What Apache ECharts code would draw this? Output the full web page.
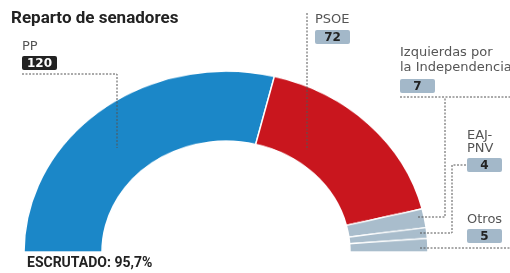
<!DOCTYPE html>
<html>
  <head>
    <meta charset="utf-8" />
    <script src="https://cdn.jsdelivr.net/npm/echarts@6.0.0/dist/echarts.min.js"></script>
    <style>
      html, body { margin: 0; padding: 0; background: #fff; }
      .layer { position: absolute; left: 0; top: 0; width: 510px; height: 273px; }
      /* the printed half ring is slightly squashed vertically */
      #ring { transform: scaleY(0.895); transform-origin: 226px 252px; }
    </style>
  </head>
  <body>
    <div id="ring" class="layer"></div>
    <div id="main" class="layer"></div>

    <script type="text/javascript">
      // seats per party
      var parties = ["PP", "PSOE", "Izquierdas por la Independencia", "EAJ-PNV", "Otros"];
      var seats = [120, 72, 7, 4, 5];
      var colors = ["#1b87c8", "#c9161e", "#a9bdcc", "#a9bdcc", "#a9bdcc"];
      var scrutinized = "95,7%";

      var total = seats.reduce(function (a, b) { return a + b; }, 0);

      var pieData = parties.map(function (name, i) {
        return { name: name, value: seats[i], itemStyle: { color: colors[i] } };
      });
      // hidden lower half so the donut becomes a half ring
      pieData.push({
        name: "_hidden",
        value: total,
        itemStyle: { color: "rgba(0,0,0,0)", borderWidth: 0 },
        emphasis: { disabled: true }
      });

      var labelFont = '13px "DejaVu Sans"';
      var numFont = 'bold 12px "DejaVu Sans"';
      var dotted = { stroke: "#555", lineWidth: 1, lineDash: [2, 1.5], fill: null };

      function label(x, y, txt) {
        return { type: "text", x: x, y: y, style: { text: txt, font: labelFont, fill: "#555", textVerticalAlign: "middle" } };
      }
      function box(x, y, num, dark) {
        return [
          { type: "rect", shape: { x: x, y: y, width: 35, height: 14, r: 2 }, style: { fill: dark ? "#222" : "#a3b8c9" } },
          { type: "text", x: x + 17.5, y: y + 7.5, style: { text: num, font: numFont, fill: dark ? "#fff" : "#222", textAlign: "center", textVerticalAlign: "middle" } }
        ];
      }
      function line(points) {
        return { type: "polyline", shape: { points: points }, style: dotted, z: 10 };
      }

      var graphics = [
        { type: "text", x: 11, y: 19, style: { text: "Reparto de senadores", font: 'bold 17px "Roboto"', fill: "#222", textVerticalAlign: "middle" } },
        { type: "text", x: 27, y: 263, style: { text: "ESCRUTADO: " + scrutinized, font: 'bold 14px "Roboto"', fill: "#222", textVerticalAlign: "middle" } },

        label(22, 47, parties[0]),
        label(315, 20, parties[1]),
        label(400, 53, "Izquierdas por"),
        label(400, 68, "la Independencia"),
        label(467, 136, "EAJ-"),
        label(467, 149, "PNV"),
        label(467, 220, parties[4]),

        line([[22, 74], [117, 74], [117, 148]]),
        line([[307, 13], [307, 150]]),
        line([[418, 217], [445, 217], [445, 97]]),
        line([[400, 97], [510, 97]]),
        line([[420, 233], [452, 233], [452, 165], [467, 165]]),
        line([[420, 248], [510, 248]])
      ]
        .concat(box(22, 56, String(seats[0]), true))
        .concat(box(315, 30, String(seats[1]), false))
        .concat(box(400, 79, String(seats[2]), false))
        .concat(box(467, 158, String(seats[3]), false))
        .concat(box(467, 229, String(seats[4]), false));

      var ringChart = echarts.init(document.getElementById("ring"));
      ringChart.setOption({
        animation: false,
        series: [
          {
            type: "pie",
            center: [226, 252],
            radius: [124, 202],
            startAngle: 180,
            clockwise: true,
            silent: true,
            label: { show: false },
            labelLine: { show: false },
            itemStyle: { borderColor: "#fff", borderWidth: 1.5 },
            data: pieData
          }
        ]
      });

      var myChart = echarts.init(document.getElementById("main"));
      myChart.setOption({
        animation: false,
        graphic: graphics
      });
    </script>
  </body>
</html>
